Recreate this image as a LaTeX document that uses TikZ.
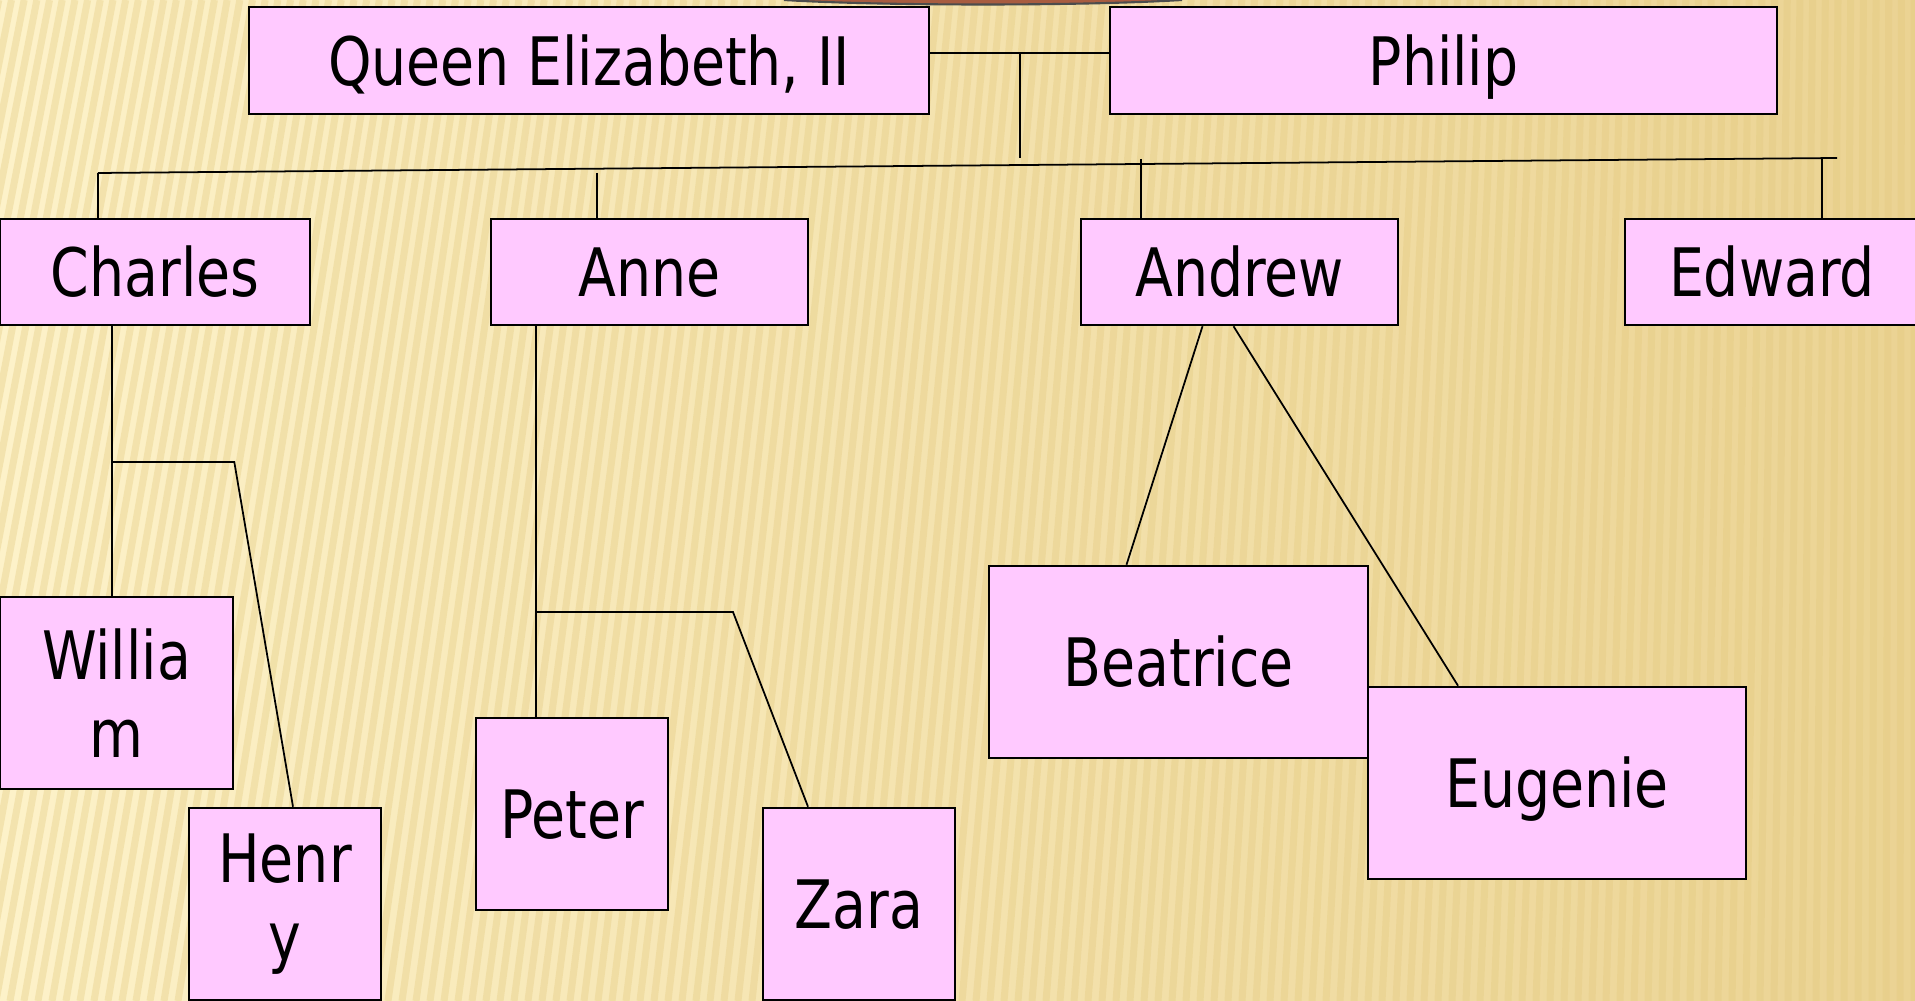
\documentclass[tikz,border=0pt]{standalone}
\usepackage{fontspec}
\setmainfont{DejaVu Sans Condensed}[FakeStretch=0.92]
\usetikzlibrary{calc}

\definecolor{boxpink}{HTML}{FFC9FF}
\definecolor{bgleft}{HTML}{FDF2C9}
\definecolor{bgright}{HTML}{EBD393}
\definecolor{stripe}{HTML}{E3C97E}
\definecolor{capbrown}{HTML}{A85C40}

\tikzset{
  box/.style={draw=black, fill=boxpink, line width=0.7pt, inner sep=0pt, align=center, font=\fontsize{19}{22}\selectfont},
  person/.style={box, text height=0.49cm, text depth=0pt},
  link/.style={draw=black, line width=0.5pt},
}

\begin{document}
\begin{tikzpicture}[x=0.01cm, y=-0.01cm]
\useasboundingbox (0,0) rectangle (1915,1001);
\clip (0,0) rectangle (1915,1001);

% background
\shade[left color=bgleft, right color=bgright] (0,0) rectangle (1915,1001);
\foreach\i in {-200,-186,...,1920}{
    \pgfmathsetmacro\slant{180*(1-\i/1915)}
    \draw[stripe, opacity=0.35, line width=2pt] (\i,1001) -- (\i+\slant,0);
}
\fill[capbrown] (784,0) .. controls (880,6) and (1086,6) .. (1182,0) -- cycle;
\draw[black!70, line width=0.6pt] (784,0) .. controls (880,6) and (1086,6) .. (1182,0);

% parents
\node[person, minimum width=6.8cm, minimum height=1.07cm] (queen) at (589,60.5) {Queen Elizabeth, II};
\node[person, minimum width=6.67cm, minimum height=1.07cm] (philip) at (1443.5,60.5) {Philip};

% children
\node[person, minimum width=3.1cm, minimum height=1.06cm] (charles) at (155,272) {Charles};
\node[person, minimum width=3.17cm, minimum height=1.06cm] (anne) at (649.5,272) {Anne};
\node[person, minimum width=3.17cm, minimum height=1.06cm] (andrew) at (1239.5,272) {Andrew};
\node[person, minimum width=2.94cm, minimum height=1.06cm] (edward) at (1772,272) {Edward};

% grandchildren
\node[box, minimum width=2.33cm, minimum height=1.92cm] (william) at (116.5,693) {Willia\\m};
\node[box, minimum width=1.92cm, minimum height=1.92cm] (henry) at (285,904) {Henr\\y};
\node[person, minimum width=1.92cm, minimum height=1.92cm] (peter) at (572,814) {Peter};
\node[person, minimum width=1.92cm, minimum height=1.92cm] (zara) at (859,904) {Zara};
\node[person, minimum width=3.79cm, minimum height=1.92cm] (beatrice) at (1178.5,662) {Beatrice};
\node[person, minimum width=3.78cm, minimum height=1.92cm] (eugenie) at (1557,783) {Eugenie};

% marriage and the line of children
\coordinate (wed) at (1020,53);
\coordinate (lineL) at (98,173);
\coordinate (lineR) at (1837,158);
\coordinate (anneTop) at (597,173);
\coordinate (andrewTop) at (1141,159);
\coordinate (edwardTop) at (1822,158);
\draw[link] (queen.east |- wed) -- (philip.west |- wed);
\draw[link] (wed) -- (1020,158);
\draw[link] (lineL) -- (lineR);
\draw[link] (lineL) -- (lineL |- charles.north);
\draw[link] (anneTop) -- (anneTop |- anne.north);
\draw[link] (andrewTop) -- (andrewTop |- andrew.north);
\draw[link] (edwardTop) -- (edwardTop |- edward.north);

% Charles
\coordinate (charlesFork) at (112,462);
\draw[link] (charles.south -| charlesFork) -- (william.north -| charlesFork);
\draw[link] (charlesFork) -- (charlesFork -| william.east) -- ($(henry.north)+(8,0)$);

% Anne
\coordinate (anneFork) at (536,612);
\draw[link] (anne.south -| anneFork) -- (peter.north -| anneFork);
\draw[link] (anneFork) -- (733,612) -- ($(zara.north)+(-51,0)$);

% Andrew
\draw[link] ($(andrew.south)+(-37,0)$) -- ($(beatrice.north)+(-52,0)$);
\draw[link] ($(andrew.south)+(-6,0)$) -- ($(eugenie.north)+(-99,0)$);
\end{tikzpicture}
\end{document}
